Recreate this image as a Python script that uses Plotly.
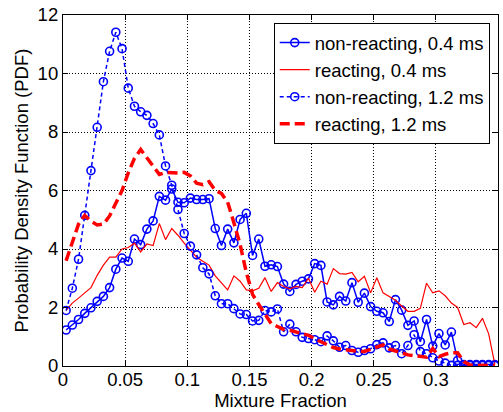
import numpy as np
import plotly.graph_objects as go

# Mixture-fraction bin centres (bin width 0.005)
bin_width = 0.005
n_bins = 70
mixture_fraction = [round(bin_width * (i + 0.5), 4) for i in range(n_bins)]

# PDF values per bin
pdf_nonreact_04 = [
    1.23, 1.40, 1.59, 1.80, 1.99, 2.21, 2.38, 2.68, 3.31, 3.69,
    3.58, 4.34, 4.15, 4.68, 4.96, 5.80, 5.67, 6.05, 5.60, 5.58,
    5.74, 5.69, 5.69, 5.72, 4.70, 4.12, 4.68, 4.21, 5.01, 5.22,
    3.78, 4.34, 3.41, 3.46, 3.40, 2.80, 2.55, 2.79, 2.90, 2.98,
    3.50, 3.44, 2.19, 2.09, 2.38, 2.22, 2.85, 2.18, 2.49, 2.03,
    1.87, 1.82, 1.52, 2.27, 1.91, 1.39, 1.54, 0.83, 1.59, 0.68,
    1.11, 0.72, 1.16, 0.19, 0.05, 0.05, 0.05, 0.05, 0.05, 0.05,
]

pdf_react_04 = [
    1.90, 2.15, 2.32, 2.50, 2.68, 3.10, 3.45, 3.72, 3.72, 4.00,
    4.05, 4.20, 3.90, 4.17, 4.12, 4.87, 4.32, 4.70, 4.47, 4.20,
    3.95, 3.72, 3.58, 3.45, 3.08, 2.85, 2.60, 3.08, 2.90, 2.60,
    2.57, 2.66, 3.02, 2.55, 2.85, 2.72, 2.64, 2.72, 2.68, 3.00,
    2.52, 2.90, 2.80, 3.33, 3.16, 3.14, 3.20, 2.88, 3.07, 2.50,
    3.02, 2.50, 2.38, 2.25, 2.05, 1.87, 1.87, 1.97, 2.83, 2.50,
    2.57, 2.40, 2.15, 2.00, 1.42, 1.48, 1.31, 1.63, 1.10, 0.05,
]

pdf_nonreact_12 = [
    1.90, 2.66, 3.65, 5.15, 6.68, 8.16, 9.72, 10.76, 11.41, 10.85,
    9.50, 8.88, 8.69, 8.57, 8.29, 7.90, 6.84, 6.18, 5.35, 4.53,
    4.10, 3.80, 3.36, 3.15, 2.40, 2.13, 2.13, 1.96, 1.78, 1.76,
    1.54, 1.56, 1.90, 1.85, 1.95, 1.17, 1.43, 1.17, 0.98, 0.94,
    0.90, 0.83, 1.03, 0.86, 0.64, 0.70, 0.53, 0.47, 0.53, 0.59,
    0.73, 0.79, 0.62, 0.70, 0.42, 0.70, 1.07, 0.49, 0.42, 0.28,
    0.17, 0.10, 0.02, 0.02, 0.02, 0.02, 0.02, 0.02, 0.02, 0.02,
]

pdf_react_12 = [
    3.60, 4.20, 4.85, 5.15, 4.95, 4.82, 4.85, 5.13, 5.55, 6.00,
    6.60, 7.10, 7.40, 7.10, 6.80, 6.55, 6.62, 6.60, 6.60, 6.62,
    6.50, 6.25, 6.20, 6.30, 6.00, 5.90, 5.60, 4.90, 4.15, 3.20,
    2.45, 2.10, 1.75, 1.45, 1.35, 1.25, 1.22, 1.17, 1.12, 1.05,
    0.93, 0.82, 0.72, 0.63, 0.58, 0.55, 0.52, 0.50, 0.50, 0.58,
    0.66, 0.72, 0.58, 0.50, 0.45, 0.38, 0.35, 0.33, 0.30, 0.60,
    0.32, 0.40, 0.45, 0.45, 0.15, 0.03, 0.02, 0.02, 0.02, 0.02,
]

series_names = [
    "non-reacting, 0.4 ms",
    "reacting, 0.4 ms",
    "non-reacting, 1.2 ms",
    "reacting, 1.2 ms",
]

x_tick_vals = [0, 0.05, 0.1, 0.15, 0.2, 0.25, 0.3]
x_tick_text = ["0", "0.05", "0.1", "0.15", "0.2", "0.25", "0.3"]
y_tick_vals = [0, 2, 4, 6, 8, 10, 12]

BLUE = "rgb(0,0,255)"
RED = "rgb(255,0,0)"
FONT = "Liberation Sans, Arial, Helvetica, sans-serif"
FS = 18.5

fig = go.Figure()

fig.add_trace(go.Scatter(
    x=mixture_fraction, y=pdf_nonreact_04, name=series_names[0],
    mode="lines+markers",
    line=dict(color=BLUE, width=1.5),
    marker=dict(symbol="circle-open", size=8, color=BLUE, line=dict(width=1.6)),
))
fig.add_trace(go.Scatter(
    x=mixture_fraction, y=pdf_react_04, name=series_names[1],
    mode="lines",
    line=dict(color=RED, width=1.2),
))
fig.add_trace(go.Scatter(
    x=mixture_fraction, y=pdf_nonreact_12, name=series_names[2],
    mode="lines+markers",
    line=dict(color=BLUE, width=1.5, dash="4px,3px"),
    marker=dict(symbol="circle-open", size=8, color=BLUE, line=dict(width=1.6)),
))
fig.add_trace(go.Scatter(
    x=mixture_fraction, y=pdf_react_12, name=series_names[3],
    mode="lines",
    line=dict(color=RED, width=3.5, dash="10px,5px"),
))

axis_common = dict(
    showline=True, linecolor="black", linewidth=1.2, mirror="ticks",
    ticks="inside", ticklen=5, tickcolor="black", tickwidth=1,
    showgrid=True, gridcolor="black", gridwidth=1, griddash="1px,2px",
    zeroline=False, ticklabeloverflow="allow",
    tickfont=dict(family=FONT, size=FS, color="black"),
)

fig.update_xaxes(
    range=[0, 0.35], tickvals=x_tick_vals, ticktext=x_tick_text,
    ticklabelstandoff=-3,
    title=dict(text="Mixture Fraction", font=dict(family=FONT, size=FS, color="black"), standoff=4),
    **axis_common,
)
fig.update_yaxes(
    range=[0, 12], tickvals=y_tick_vals,
    title=dict(text="Probability Density Function (PDF)", font=dict(family=FONT, size=FS, color="black"), standoff=4),
    **axis_common,
)

fig.update_layout(
    width=503, height=412,
    margin=dict(l=63, r=4, t=9, b=46),
    paper_bgcolor="white", plot_bgcolor="white",
    font=dict(family=FONT, size=FS, color="black"),
    showlegend=True,
    legend=dict(
        x=0.981, y=0.977, xanchor="right", yanchor="top",
        bgcolor="white", bordercolor="black", borderwidth=1,
        font=dict(family=FONT, size=FS, color="black"),
        tracegroupgap=0, itemwidth=30,
    ),
)

fig.write_html("out.html")
